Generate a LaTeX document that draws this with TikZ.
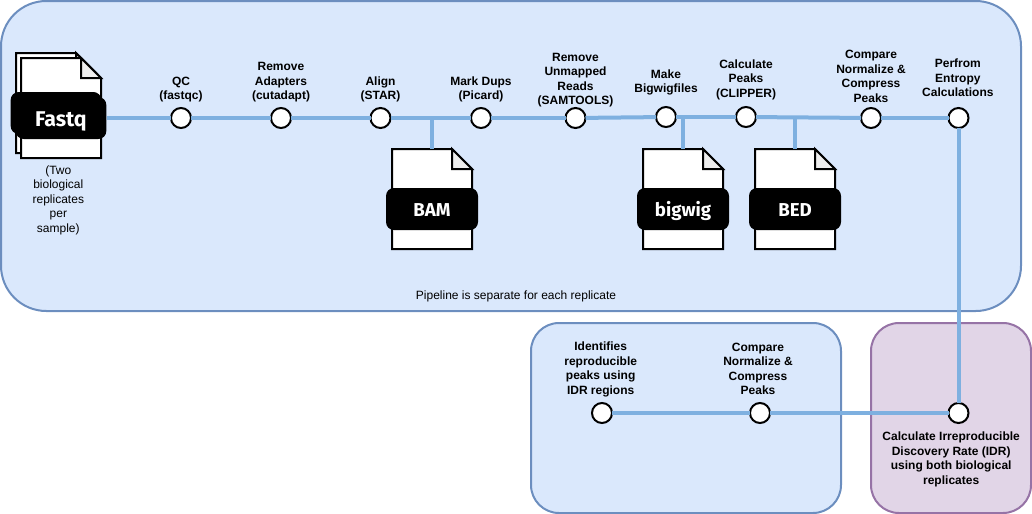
\documentclass[tikz,border=0pt]{standalone}
\usepackage{fontspec}
\setmainfont{Liberation Sans}
\newfontfamily\tagfont{Fira Sans}
\usetikzlibrary{positioning,calc}
\definecolor{pipeblue}{HTML}{DAE8FC}
\definecolor{pipeedge}{HTML}{6C8EBF}
\definecolor{idrpurple}{HTML}{E1D5E7}
\definecolor{idredge}{HTML}{9673A6}
\definecolor{flowblue}{HTML}{7EB0E0}
\definecolor{foldgray}{HTML}{EEEEEE}

\begin{document}
\begin{tikzpicture}[x=0.75pt,y=-0.75pt,
      panel/.style={draw=pipeedge,fill=pipeblue,line width=1.5pt,rounded corners=21pt},
      stepdot/.style={circle,draw,fill=white,line width=1.5pt,minimum size=15pt,inner sep=0pt,outer sep=0pt},
      steplabel/.style={align=center,font=\fontsize{9}{10.9}\selectfont\bfseries,inner sep=0pt},
      docbody/.style={minimum width=60pt,minimum height=75pt,inner sep=0pt,outer sep=0pt},
      docline/.style={draw,line width=1.5pt,fill=white,line join=miter},
      doctag/.style={fill=black,text=white,rounded corners=6pt,minimum width=69pt,minimum height=31.5pt,
        inner sep=0pt,text height=11.2pt,text depth=0pt,font=\tagfont\fontsize{14}{16}\selectfont\bfseries},
      flow/.style={draw=flowblue,line width=3pt}]
    \useasboundingbox (0,0) rectangle (1032,514);
    % panels
    \path[panel,rounded corners=34pt] (1,1) rectangle (1021,311);
    \path[panel] (531,323) rectangle (841,513);
    \path[panel,draw=idredge,fill=idrpurple] (871,323) rectangle (1031,513);
    \node[font=\fontsize{9}{10}\selectfont] (note) at (516,296) {Pipeline is separate for each replicate};
    % files
    \node[docbody] (fastqback) at (56,103) {};
    \node[docbody] (fastq) at (61,108) {};
    \foreach \nm/\cx/\txt in {bam/432/BAM,bigwig/683/bigwig,bed/795/BED}{
      \node[docbody] (\nm) at (\cx,199) {};
      \draw[docline] (\nm.north west) -- ++(60,0) -- ++(20,20) -- (\nm.south east) -- (\nm.south west) -- cycle;
      \draw[docline,fill=foldgray] (\nm.north west) ++(60,0) -- ++(0,20) -- ++(20,0) -- cycle;
      \node[doctag] (\nm tag) at (\cx,209) {\txt};
    }
    \foreach \nm in {fastqback,fastq}{
      \draw[docline] (\nm.north west) -- ++(60,0) -- ++(20,20) -- (\nm.south east) -- (\nm.south west) -- cycle;
      \draw[docline,fill=foldgray] (\nm.north west) ++(60,0) -- ++(0,20) -- ++(20,0) -- cycle;
    }
    \node[doctag,minimum width=68pt] (fastqtagback) at (56,113) {};
    \node[doctag,minimum width=68pt,text height=12.5pt,font=\tagfont\fontsize{16}{18}\selectfont\bfseries] (fastqtag) at (61,118) {Fastq};
    \node[align=center,font=\fontsize{9}{10.9}\selectfont,inner sep=0pt,below=5.5pt of fastq,xshift=-2pt] (replicates)
      {(Two\\biological\\replicates\\per\\sample)};
    % steps
    \node[stepdot] (qc) at (181,118) {};
    \node[stepdot] (adapters) at (281,118) {};
    \node[stepdot] (align) at (380.5,118) {};
    \node[stepdot] (dups) at (481,118) {};
    \node[stepdot] (unmapped) at (575.5,118) {};
    \node[stepdot] (bigwigs) at (666,117) {};
    \node[stepdot] (peaks) at (746,117) {};
    \node[stepdot] (compress) at (871,118) {};
    \node[stepdot] (entropy) at (958.5,118) {};
    \node[stepdot] (idr) at (958.5,413) {};
    \node[stepdot] (compresstwo) at (760,413) {};
    \node[stepdot] (repro) at (602,413) {};
    % labels
    \node[steplabel,above=4pt of qc] (qclabel) {QC\\(fastqc)};
    \node[steplabel,above=4pt of adapters] (adapterslabel) {Remove\\Adapters\\(cutadapt)};
    \node[steplabel,above=4pt of align] (alignlabel) {Align\\(STAR)};
    \node[steplabel,above=4pt of dups] (dupslabel) {Mark Dups\\(Picard)};
    \node[steplabel,above=.4pt of unmapped] (unmappedlabel) {Remove\\Unmapped\\Reads\\(SAMTOOLS)};
    \node[steplabel,above=8.6pt of bigwigs] (bigwigslabel) {Make\\Bigwigfiles};
    \node[steplabel,above=5.2pt of peaks] (peakslabel) {Calculate\\Peaks\\(CLIPPER)};
    \node[steplabel,above=4.1pt of compress] (compresslabel) {Compare\\Normalize \&\\Compress\\Peaks};
    \node[steplabel,above=8.2pt of entropy,xshift=-.5pt] (entropylabel) {Perfrom\\Entropy\\Calculations};
    \node[steplabel,above=4.5pt of repro,xshift=-1pt] (reprolabel) {Identifies\\reproducible\\peaks using\\IDR regions};
    \node[steplabel,above=6pt of compresstwo,xshift=-1.5pt] (compresstwolabel) {Compare\\Normalize \&\\Compress\\Peaks};
    \node[steplabel,below=6.5pt of idr,xshift=-5.5pt] (idrlabel) {Calculate Irreproducible\\Discovery Rate (IDR)\\using both biological\\replicates};
    % connectors
    \draw[flow] (fastqtag) -- (qc);
    \draw[flow] (qc) -- (adapters);
    \draw[flow] (adapters) -- (align);
    \draw[flow] (align) -- (dups);
    \draw[flow] (dups) -- (unmapped);
    \draw[flow] (unmapped) -- (bigwigs);
    \draw[flow] (bigwigs) -- (peaks);
    \draw[flow] (peaks) -- (compress);
    \draw[flow] (compress) -- (entropy);
    \draw[flow] (entropy) -- (idr);
    \draw[flow] (idr) -- (compresstwo);
    \draw[flow] (compresstwo) -- (repro);
    \draw[flow] (bam.north) -- (bam.north |- align);
    \draw[flow] (bigwig.north) -- (bigwig.north |- bigwigs);
    \draw[flow] (bed.north) -- (bed.north |- peaks);
  \end{tikzpicture}
\end{document}
